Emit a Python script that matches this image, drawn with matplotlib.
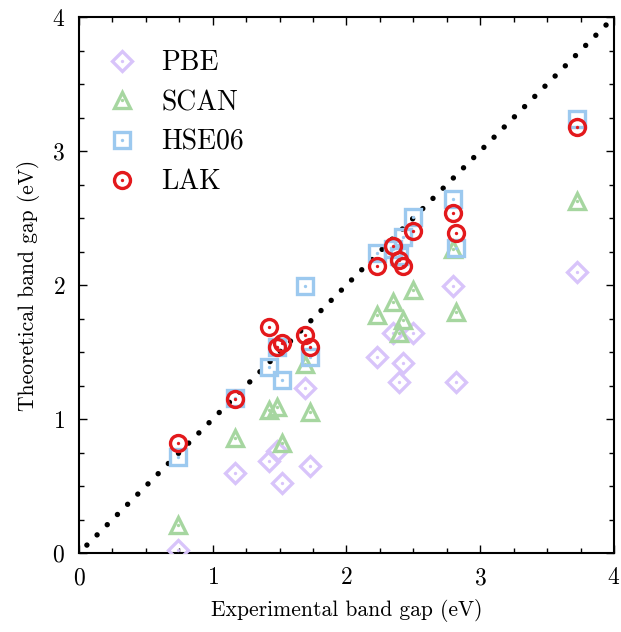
import matplotlib
matplotlib.use("Agg")
import matplotlib.pyplot as plt
from matplotlib.ticker import MultipleLocator
from matplotlib.legend_handler import HandlerTuple

plt.rcParams['font.family'] = 'serif'
plt.rcParams['font.serif'] = ['cmr10']
plt.rcParams['mathtext.fontset'] = 'cm'
plt.rcParams['axes.formatter.use_mathtext'] = True

# Experimental band gaps (eV)
experimental = [0.74, 1.17, 1.42, 1.48, 1.52, 1.69, 1.73, 2.23, 2.35, 2.39,
                2.42, 2.50, 2.80, 2.82, 3.72]
# Theoretical band gaps (eV) for each functional
pbe = [0.02, 0.60, 0.69, 0.76, 0.52, 1.23, 0.65, 1.46, 1.64, 1.28,
       1.42, 1.64, 1.99, 1.28, 2.10]
scan = [0.21, 0.86, 1.07, 1.09, 0.82, 1.41, 1.05, 1.78, 1.87, 1.64,
        1.74, 1.96, 2.27, 1.80, 2.63]
hse06 = [0.72, 1.16, 1.39, 1.54, 1.29, 1.99, 1.46, 2.24, 2.27, 2.22,
         2.36, 2.51, 2.64, 2.28, 3.24]
lak = [0.82, 1.15, 1.69, 1.54, 1.57, 1.63, 1.54, 2.14, 2.29, 2.19,
       2.14, 2.40, 2.54, 2.39, 3.18]

series = [
    ("PBE", pbe, "D", "#d8c4fa", 10),
    ("SCAN", scan, "^", "#a6d6a0", 12),
    ("HSE06", hse06, "s", "#9cc9ef", 11.5),
    ("LAK", lak, "o", "#e3191c", 11.5),
]

axis_range = [0, 4]

fig = plt.figure(figsize=(6.21, 6.32), dpi=100)
ax = fig.add_axes([0.1272, 0.125, 0.8615, 0.848])

# y = x reference line
ax.plot(axis_range, axis_range, color="black", lw=3.9,
        linestyle=(0.6, (0.01, 2.65)), dash_capstyle="round", zorder=1)

handles = []
labels = []
for name, vals, mk, col, ms in series:
    h1, = ax.plot(experimental, vals, linestyle="none", marker=mk, ms=ms,
                  mfc="none", mec=col, mew=2.4, zorder=3)
    h2, = ax.plot(experimental, vals, linestyle="none", marker="o", ms=2.4,
                  mfc=col, mec=col, mew=0, zorder=3)
    handles.append((h1, h2))
    labels.append(name)

ax.set_xlim(axis_range)
ax.set_ylim(axis_range)
ax.xaxis.set_major_locator(MultipleLocator(1))
ax.yaxis.set_major_locator(MultipleLocator(1))
ax.xaxis.set_minor_locator(MultipleLocator(0.25))
ax.yaxis.set_minor_locator(MultipleLocator(0.25))
ax.tick_params(which="both", direction="in", top=True, right=True,
               labelsize=17, width=1.0)
ax.tick_params(which="major", length=5.5, pad=10)
ax.tick_params(which="minor", length=3.5)
for sp in ax.spines.values():
    sp.set_linewidth(1.5)

ax.set_xlabel("Experimental band gap (eV)", fontsize=15.5, labelpad=7)
ax.set_ylabel("Theoretical band gap (eV)", fontsize=15.5, labelpad=9)

leg = ax.legend(handles, labels, loc="upper left", frameon=False,
                fontsize=20, handler_map={tuple: HandlerTuple(ndivide=1)},
                handlelength=1.0, handletextpad=0.9, labelspacing=0.48,
                bbox_to_anchor=(0.034, 0.959), borderaxespad=0)

fig.savefig("out.png", dpi=100)
